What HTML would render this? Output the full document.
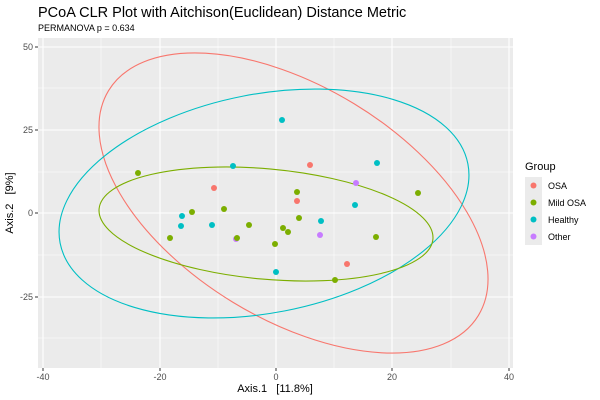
<!DOCTYPE html>
<html><head><style>html,body{margin:0;padding:0;background:#fff;width:600px;height:400px;overflow:hidden}svg{display:block;font-family:"Liberation Sans","DejaVu Sans",sans-serif}</style></head><body>
<svg width="600" height="400" viewBox="0 0 600 400" xmlns="http://www.w3.org/2000/svg">
<text x="38" y="17" font-size="14.5" fill="#000">PCoA CLR Plot with Aitchison(Euclidean) Distance Metric</text>
<text x="38" y="31" font-size="9" fill="#000">PERMANOVA p = 0.634</text>
<rect x="38" y="38" width="475" height="330" fill="#ebebeb"/>
<g stroke="#fff" stroke-width="0.5">
<line x1="101" x2="101" y1="38" y2="368"/><line x1="218" x2="218" y1="38" y2="368"/><line x1="334" x2="334" y1="38" y2="368"/><line x1="451" x2="451" y1="38" y2="368"/>
<line x1="38" x2="513" y1="88" y2="88"/><line x1="38" x2="513" y1="172" y2="172"/><line x1="38" x2="513" y1="255" y2="255"/><line x1="38" x2="513" y1="338" y2="338"/>
</g>
<g stroke="#fff" stroke-width="1.1">
<line x1="43" x2="43" y1="38" y2="368"/><line x1="160" x2="160" y1="38" y2="368"/><line x1="276" x2="276" y1="38" y2="368"/><line x1="392" x2="392" y1="38" y2="368"/><line x1="509" x2="509" y1="38" y2="368"/>
<line x1="38" x2="513" y1="47" y2="47"/><line x1="38" x2="513" y1="130" y2="130"/><line x1="38" x2="513" y1="213" y2="213"/><line x1="38" x2="513" y1="297" y2="297"/>
</g>
<g fill="none" stroke-width="1.1">
<ellipse cx="293.5" cy="203" rx="216.4" ry="116.3" transform="rotate(31.3 293.5 203)" stroke="#F8766D"/>
<ellipse cx="264" cy="203.5" rx="207.7" ry="109.4" transform="rotate(-11 264 203.5)" stroke="#00BFC4"/>
<ellipse cx="266" cy="224" rx="167.6" ry="55.2" transform="rotate(5.2 266 224)" stroke="#7CAE00"/>
</g>
<g fill="#00BFC4">
<circle cx="282" cy="120" r="3"/><circle cx="233" cy="166" r="3"/><circle cx="377" cy="163" r="3"/><circle cx="355" cy="205" r="3"/><circle cx="182" cy="216" r="3"/><circle cx="181" cy="226" r="3"/><circle cx="212" cy="225" r="3"/><circle cx="321" cy="221" r="3"/><circle cx="276" cy="272" r="3"/>
</g>
<g fill="#F8766D">
<circle cx="310" cy="165" r="3"/><circle cx="214" cy="188" r="3"/><circle cx="297" cy="201" r="3"/><circle cx="347" cy="264" r="3"/>
</g>
<g fill="#C77CFF">
<circle cx="356" cy="183" r="3"/><circle cx="320" cy="235" r="3"/><circle cx="236" cy="239" r="3"/>
</g>
<g fill="#7CAE00">
<circle cx="138" cy="173" r="3"/><circle cx="192" cy="212" r="3"/><circle cx="224" cy="209" r="3"/><circle cx="170" cy="238" r="3"/><circle cx="237" cy="238" r="3"/><circle cx="249" cy="225" r="3"/><circle cx="275" cy="244" r="3"/><circle cx="283" cy="228" r="3"/><circle cx="288" cy="232" r="3"/><circle cx="297" cy="192" r="3"/><circle cx="299" cy="218" r="3"/><circle cx="335" cy="280" r="3"/><circle cx="376" cy="237" r="3"/><circle cx="418" cy="193" r="3"/>
</g>
<g stroke="#333" stroke-width="1">
<line x1="35" x2="38" y1="47" y2="47"/><line x1="35" x2="38" y1="130" y2="130"/><line x1="35" x2="38" y1="213" y2="213"/><line x1="35" x2="38" y1="297" y2="297"/>
<line x1="43" x2="43" y1="368" y2="371"/><line x1="160" x2="160" y1="368" y2="371"/><line x1="276" x2="276" y1="368" y2="371"/><line x1="392" x2="392" y1="368" y2="371"/><line x1="509" x2="509" y1="368" y2="371"/>
</g>
<g font-size="9" fill="#4d4d4d" text-anchor="end">
<text x="33" y="50">50</text><text x="33" y="133">25</text><text x="33" y="216">0</text><text x="33" y="300">-25</text>
</g>
<g font-size="9" fill="#4d4d4d" text-anchor="middle">
<text x="43" y="380">-40</text><text x="160" y="380">-20</text><text x="276" y="380">0</text><text x="392" y="380">20</text><text x="509" y="380">40</text>
</g>
<text x="275" y="392" font-size="11" text-anchor="middle" fill="#000" style="white-space:pre">Axis.1   [11.8%]</text>
<text transform="translate(13 203) rotate(-90)" font-size="11" text-anchor="middle" fill="#000" style="white-space:pre">Axis.2   [9%]</text>
<text x="525" y="170" font-size="11" fill="#000">Group</text>
<g>
<rect x="525" y="177" width="17" height="17" fill="#ebebeb"/><circle cx="533.5" cy="185.5" r="3" fill="#F8766D"/>
<rect x="525" y="194" width="17" height="17" fill="#ebebeb"/><circle cx="533.5" cy="202.5" r="3" fill="#7CAE00"/>
<rect x="525" y="211" width="17" height="17" fill="#ebebeb"/><circle cx="533.5" cy="219.5" r="3" fill="#00BFC4"/>
<rect x="525" y="228" width="17" height="17" fill="#ebebeb"/><circle cx="533.5" cy="236.5" r="3" fill="#C77CFF"/>
</g>
<g font-size="9" fill="#000">
<text x="548" y="189">OSA</text><text x="548" y="206">Mild OSA</text><text x="548" y="223">Healthy</text><text x="548" y="240">Other</text>
</g>
</svg>
</body></html>
